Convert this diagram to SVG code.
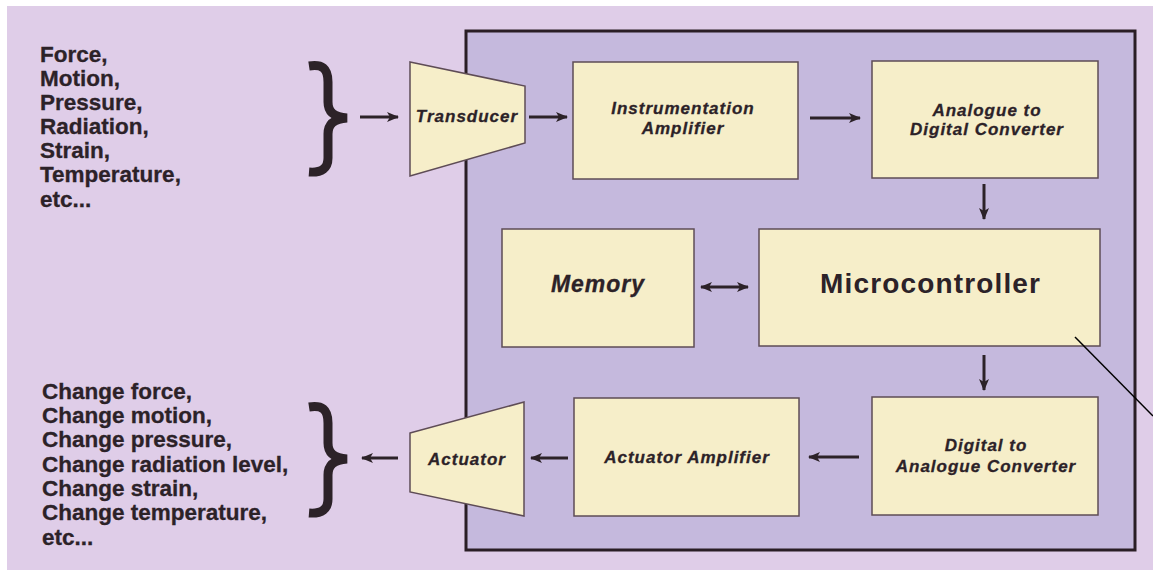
<svg xmlns="http://www.w3.org/2000/svg" xmlns:xlink="http://www.w3.org/1999/xlink" width="1153" height="572" viewBox="0 0 1153 572">
<style>
.box{fill:#f6eec9;stroke:#5e4c56;stroke-width:1.5}
.lbl{font-family:"Liberation Sans",Arial,sans-serif;font-weight:bold;font-style:italic;font-size:17px;letter-spacing:1px;fill:#2c2228;text-anchor:middle;stroke:#2c2228;stroke-width:0.3}
.side{font-family:"Liberation Sans",Arial,sans-serif;font-weight:bold;font-size:22.5px;fill:#2c2228;stroke:#2c2228;stroke-width:0.3}
.conn{stroke:#2c2228;stroke-width:3;fill:none}
.brace{stroke:#2c2228;stroke-width:9;fill:none}
</style>
<defs>
<marker id="ah" viewBox="0 0 12 10" refX="11" refY="5" markerWidth="12" markerHeight="10" markerUnits="userSpaceOnUse" orient="auto-start-reverse">
<path d="M0,0 L12,5 L0,10 L3,5 Z" fill="#2c2228"/>
</marker>
<path id="bracePath" d="M 309 66 C 322 64 328 68 328 82 L 328 102 C 328 112 334 117 347 118 C 334 119 328 124 328 134 L 328 158 C 328 168 322 173 309 172"/>
</defs>
<rect x="0" y="0" width="1153" height="572" fill="#ffffff"/>
<rect x="7" y="6" width="1146" height="564" fill="#dfcde8"/>
<rect id="system" x="466" y="31" width="669" height="519" fill="#c5b9dd" stroke="#2a1e25" stroke-width="3"/>

<g id="inputs">
<text class="side" x="40" y="62">Force,</text>
<text class="side" x="40" y="86">Motion,</text>
<text class="side" x="40" y="110">Pressure,</text>
<text class="side" x="40" y="134">Radiation,</text>
<text class="side" x="40" y="158">Strain,</text>
<text class="side" x="40" y="182">Temperature,</text>
<text class="side" x="40" y="207">etc...</text>
<use xlink:href="#bracePath" class="brace"/>
</g>

<g id="outputs">
<text class="side" x="42" y="399">Change force,</text>
<text class="side" x="42" y="423">Change motion,</text>
<text class="side" x="42" y="447">Change pressure,</text>
<text class="side" x="42" y="472">Change radiation level,</text>
<text class="side" x="42" y="496">Change strain,</text>
<text class="side" x="42" y="520">Change temperature,</text>
<text class="side" x="42" y="545">etc...</text>
<use xlink:href="#bracePath" class="brace" transform="translate(0,341)"/>
</g>

<g id="transducer">
<polygon class="box" points="410,62 525,86 525,143 410,176"/>
<text class="lbl" x="467" y="122">Transducer</text>
</g>
<g id="instrumentation-amplifier">
<rect class="box" x="573" y="62" width="225" height="117"/>
<text class="lbl" x="683" y="114">Instrumentation</text>
<text class="lbl" x="683" y="134">Amplifier</text>
</g>
<g id="adc">
<rect class="box" x="872" y="61" width="226" height="117"/>
<text class="lbl" x="987" y="116">Analogue to</text>
<text class="lbl" x="987" y="135">Digital Converter</text>
</g>
<g id="memory">
<rect class="box" x="502" y="229" width="192" height="118"/>
<text class="lbl" x="598" y="292" style="font-size:23px;letter-spacing:1px">Memory</text>
</g>
<g id="microcontroller">
<rect class="box" x="759" y="229" width="341" height="117"/>
<text x="930" y="293" text-anchor="middle" font-family="Liberation Sans, Arial, sans-serif" font-weight="bold" font-size="28" fill="#2c2228" textLength="220" lengthAdjust="spacing">Microcontroller</text>
</g>
<g id="dac">
<rect class="box" x="872" y="397" width="226" height="118"/>
<text class="lbl" x="986" y="451">Digital to</text>
<text class="lbl" x="986" y="472">Analogue Converter</text>
</g>
<g id="actuator-amplifier">
<rect class="box" x="574" y="398" width="225" height="118"/>
<text class="lbl" x="687" y="463">Actuator Amplifier</text>
</g>
<g id="actuator">
<polygon class="box" points="410,433 524,402 524,516 410,492"/>
<text class="lbl" x="467" y="465">Actuator</text>
</g>

<g id="connectors">
<line class="conn" x1="360" y1="117" x2="398" y2="117" marker-end="url(#ah)"/>
<line class="conn" x1="529" y1="117" x2="567" y2="117" marker-end="url(#ah)"/>
<line class="conn" x1="810" y1="118" x2="860" y2="118" marker-end="url(#ah)"/>
<line class="conn" x1="984" y1="184" x2="984" y2="219" marker-end="url(#ah)"/>
<line class="conn" x1="701" y1="287" x2="748" y2="287" marker-start="url(#ah)" marker-end="url(#ah)"/>
<line class="conn" x1="984" y1="355" x2="984" y2="390" marker-end="url(#ah)"/>
<line class="conn" x1="859" y1="457" x2="809" y2="457" marker-end="url(#ah)"/>
<line class="conn" x1="568" y1="458" x2="531" y2="458" marker-end="url(#ah)"/>
<line class="conn" x1="398" y1="458" x2="362" y2="458" marker-end="url(#ah)"/>
<line x1="1075" y1="337" x2="1153" y2="416" stroke="#000000" stroke-width="1.5"/>
</g>
</svg>
